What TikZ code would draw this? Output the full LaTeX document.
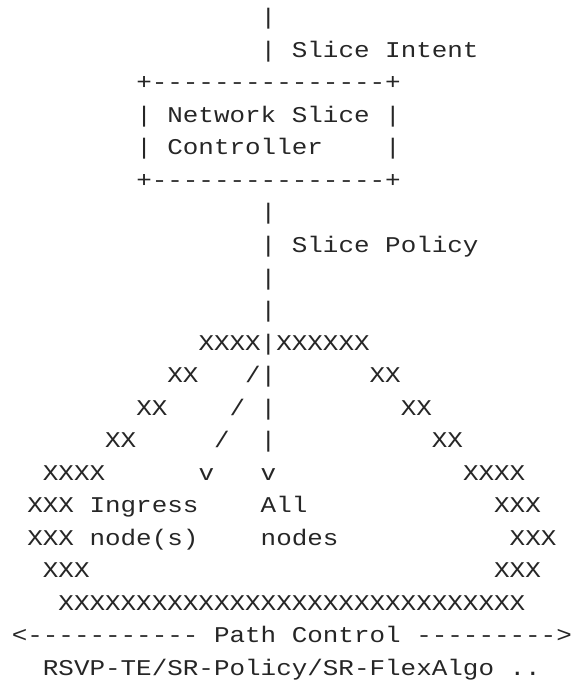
\documentclass[tikz,border=0pt]{standalone}
\usepackage{fontspec}
\setmonofont{Liberation Mono}
\definecolor{ink}{RGB}{38,38,38}
\begin{document}
\begin{tikzpicture}[x=1pt,y=-1pt,
  asc/.style={anchor=base west, inner sep=0pt, outer sep=0pt,
    font=\ttfamily\frenchspacing\fontsize{22.5}{27}\selectfont,
    text=ink, xscale=1.1524, transform shape}]
\useasboundingbox (0,0) rectangle (573,684);
\def\cx#1{-3.78+15.56*#1}
% row 1-2: intent
\node[asc] (r1)  at ({\cx{17}},25)   {|};
\node[asc] (r2a) at ({\cx{17}},57.5) {|};
\node[asc] (intent) at ({\cx{19}},57.5) {Slice Intent};
% controller box
\node[asc] (boxtop) at ({\cx{9}},90)    {+---------------+};
\node[asc] (ctrl1)  at ({\cx{9}},122.5) {| Network Slice |};
\node[asc] (ctrl2)  at ({\cx{9}},155)   {| Controller};
\node[asc] (ctrl2r) at ({\cx{25}},155)  {|};
\node[asc] (boxbot) at ({\cx{9}},187.5) {+---------------+};
% policy
\node[asc] (r7)  at ({\cx{17}},220)   {|};
\node[asc] (policy) at ({\cx{17}},252.5) {| Slice Policy};
\node[asc] (r9)  at ({\cx{17}},285)   {|};
\node[asc] (r10) at ({\cx{17}},317.5) {|};
% network cloud
\node[asc] (r11)  at ({\cx{13}},350)   {XXXX|XXXXXX};
\node[asc] (r12a) at ({\cx{11}},382.5) {XX};
\node[asc] (r12b) at ({\cx{16}},382.5) {/|};
\node[asc] (r12c) at ({\cx{24}},382.5) {XX};
\node[asc] (r13a) at ({\cx{9}},415)    {XX};
\node[asc] (r13b) at ({\cx{15}},415)   {/ |};
\node[asc] (r13c) at ({\cx{26}},415)   {XX};
\node[asc] (r14a) at ({\cx{7}},447.5)  {XX};
\node[asc] (r14b) at ({\cx{14}},447.5) {/};
\node[asc] (r14c) at ({\cx{17}},447.5) {|};
\node[asc] (r14d) at ({\cx{28}},447.5) {XX};
\node[asc] (r15a) at ({\cx{3}},480)    {XXXX};
\node[asc] (r15b) at ({\cx{13}},480)   {v};
\node[asc] (r15c) at ({\cx{17}},480)   {v};
\node[asc] (r15d) at ({\cx{30}},480)   {XXXX};
\node[asc] (ingress) at ({\cx{2}},512.5)  {XXX Ingress};
\node[asc] (all)     at ({\cx{17}},512.5) {All};
\node[asc] (r16c)    at ({\cx{32}},512.5) {XXX};
\node[asc] (nodess)  at ({\cx{2}},545)    {XXX node(s)};
\node[asc] (nodes)   at ({\cx{17}},545)   {nodes};
\node[asc] (r17c)    at ({\cx{33}},545)   {XXX};
\node[asc] (r18a) at ({\cx{3}},577.5)  {XXX};
\node[asc] (r18b) at ({\cx{32}},577.5) {XXX};
\node[asc] (r19)  at ({\cx{4}},610)    {XXXXXXXXXXXXXXXXXXXXXXXXXXXXXX};
% path control
\node[asc] (path) at ({\cx{1}},642.5)  {<----------- Path Control --------->};
\node[asc] (proto) at ({\cx{3}},675)   {RSVP-TE/SR-Policy/SR-FlexAlgo ..};
\end{tikzpicture}
\end{document}
